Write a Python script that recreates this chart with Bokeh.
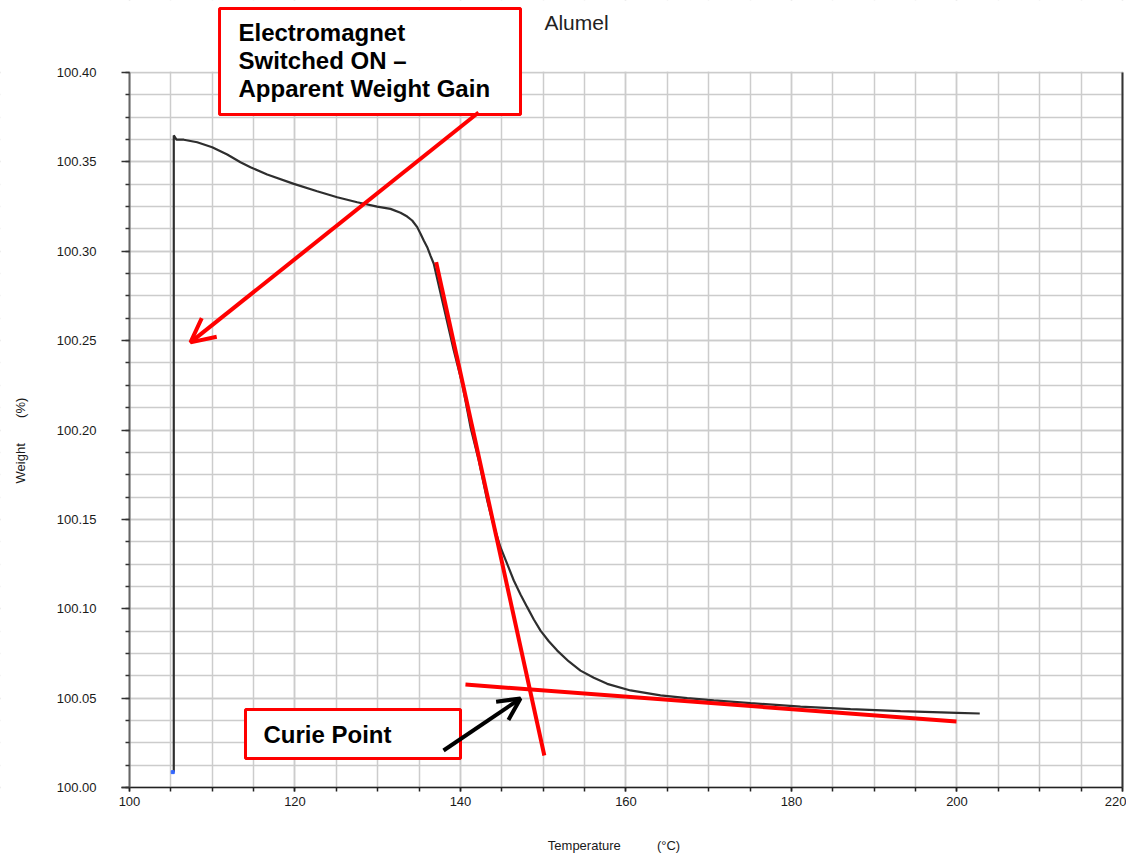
import math
from bokeh.plotting import figure
from bokeh.models import (Range1d, FixedTicker, PrintfTickFormatter, LinearAxis,
                          BoxAnnotation, Label, Arrow, OpenHead)
from bokeh.embed import file_html
from bokeh.resources import INLINE

# TGA trace of Alumel: temperature (°C) vs weight (%)
temperature = [105.35, 105.35, 105.68, 106.56, 108.18, 109.99, 111.81, 113.41, 114.62, 116.64,
               119.86, 122.68, 125.10, 127.52, 129.93, 131.54, 132.75, 133.56, 134.16, 134.77,
               135.17, 135.56, 135.98, 136.37, 136.77, 137.98, 139.19, 140.21, 141.21, 142.21,
               143.23, 143.83, 144.83, 145.64, 146.44, 147.25, 148.06, 148.86, 149.67, 150.67,
               151.69, 153.09, 154.50, 156.11, 157.73, 160.54, 164.17, 167.40, 170.61, 175.05,
               181.09, 187.13, 193.17, 200.02, 202.75]
weight = [100.0086, 100.3648, 100.3625, 100.3624, 100.3610, 100.3582, 100.3541, 100.3498, 100.3470, 100.3429,
          100.3377, 100.3336, 100.3302, 100.3274, 100.3250, 100.3237, 100.3215, 100.3194, 100.3172, 100.3135,
          100.3098, 100.3060, 100.3023, 100.2976, 100.2930, 100.2687, 100.2445, 100.2259, 100.2016, 100.1829,
          100.1606, 100.1494, 100.1344, 100.1251, 100.1158, 100.1080, 100.1009, 100.0940, 100.0878, 100.0818,
          100.0766, 100.0705, 100.0654, 100.0614, 100.0580, 100.0543, 100.0515, 100.0500, 100.0487, 100.0472,
          100.0453, 100.0438, 100.0427, 100.0418, 100.0414]

# tangent construction for the Curie point
steep_t = [137.06, 150.13]
steep_w = [100.2939, 100.0179]
flat_t = [140.60, 199.94]
flat_w = [100.0576, 100.0369]
curie_t = 147.25
curie_w = 100.0498

# axis ticks
x_major = [100, 120, 140, 160, 180, 200, 220]
x_minor = [100 + 5 * i for i in range(25)]
y_major = [100.00, 100.05, 100.10, 100.15, 100.20, 100.25, 100.30, 100.35, 100.40]
y_minor = [round(100 + 0.0125 * i, 4) for i in range(33)]

X0, X1 = 100, 220
Y0, Y1 = 100.0, 100.4

FONT = "Liberation Sans"
GRID = "#cccccc"

# the frame fills the whole canvas; axes are pinned to the data box
p = figure(width=1126, height=856, output_backend="svg", toolbar_location=None,
           x_range=Range1d(84.4109, 220.4834), y_range=Range1d(99.9614, 100.44028),
           min_border=0, outline_line_color=None,
           background_fill_color="white", border_fill_color="white")

xa = p.xaxis[0]
xa.fixed_location = Y0
xa.bounds = (99.03, X1)
xa.ticker = FixedTicker(ticks=x_major, minor_ticks=x_minor)
xa.axis_line_color = "#222222"
xa.axis_line_width = 1.5
xa.major_tick_line_color = "#222222"
xa.minor_tick_line_color = "#222222"
xa.major_tick_line_width = 1.5
xa.minor_tick_line_width = 1.5
xa.major_tick_out = 4
xa.major_tick_in = 0
xa.minor_tick_out = 4
xa.minor_tick_in = 0
xa.major_label_standoff = 5
xa.major_label_text_font = FONT
xa.major_label_text_font_size = "13px"
xa.major_label_text_color = "#1a1a1a"

ya = p.yaxis[0]
ya.fixed_location = X0
ya.bounds = (Y0, Y1)
ya.ticker = FixedTicker(ticks=y_major, minor_ticks=y_minor)
ya.formatter = PrintfTickFormatter(format="%.2f")
ya.axis_line_color = "#666666"
ya.axis_line_width = 2
ya.major_tick_line_color = "#333333"
ya.minor_tick_line_color = "#333333"
ya.major_tick_line_width = 1.5
ya.minor_tick_line_width = 1.5
ya.major_tick_out = 8
ya.major_tick_in = 0
ya.minor_tick_out = 4
ya.minor_tick_in = 0
ya.major_label_standoff = 25
ya.major_label_text_font = FONT
ya.major_label_text_font_size = "13px"
ya.major_label_text_color = "#1a1a1a"

# plain right border line
ra = LinearAxis(fixed_location=X1, bounds=(Y0, Y1), ticker=FixedTicker(ticks=[]),
                axis_line_color="#333333", axis_line_width=2,
                major_tick_out=0, major_tick_in=0, minor_tick_out=0, minor_tick_in=0,
                major_label_standoff=0, major_label_text_font_size="0px")
p.add_layout(ra, "right")

# grid every 5 °C and every 0.0125 %
for g in (p.xgrid[0], p.ygrid[0]):
    g.grid_line_color = GRID
    g.grid_line_width = 1.5
    g.minor_grid_line_color = GRID
    g.minor_grid_line_width = 1.5
p.xgrid[0].ticker = FixedTicker(ticks=x_major, minor_ticks=x_minor)
p.ygrid[0].ticker = FixedTicker(ticks=y_major, minor_ticks=y_minor)

# keep the grid inside the data box
for kw in (dict(bottom=Y1 + 0.0005), dict(top=Y0 - 0.0005),
           dict(right=X0 - 0.1), dict(left=X1 + 0.1)):
    p.add_layout(BoxAnnotation(fill_color="white", fill_alpha=1.0, line_color=None,
                               level="glyph", **kw))

# data
p.line(temperature, weight, line_color="#2e2e2e", line_width=2.2)
p.scatter([temperature[0] - 0.12], [weight[0]], marker="square", size=3,
          fill_color="#3366ff", line_color="#3366ff")

# tangents
p.line(steep_t, steep_w, line_color="#ff0000", line_width=4)
p.line(flat_t, flat_w, line_color="#ff0000", line_width=4)

# annotation boxes
p.add_layout(BoxAnnotation(left=110.88, right=147.25, top=100.4358, bottom=100.3765,
                           fill_color="white", fill_alpha=1.0,
                           line_color="#ff0000", line_width=3, line_alpha=1.0))
p.add_layout(BoxAnnotation(left=114.02, right=140.0, top=100.0436, bottom=100.0162,
                           fill_color="white", fill_alpha=1.0,
                           line_color="#ff0000", line_width=3, line_alpha=1.0))

for txt, yy in (("Electromagnet", 100.4224), ("Switched ON \u2013", 100.4067),
                ("Apparent Weight Gain", 100.3910)):
    p.add_layout(Label(x=113.17, y=yy, text=txt, text_align="left", text_baseline="middle",
                       text_font=FONT, text_font_style="bold", text_font_size="24px",
                       text_color="black"))
p.add_layout(Label(x=116.19, y=100.0296, text="Curie Point", text_align="left",
                   text_baseline="middle", text_font=FONT, text_font_style="bold",
                   text_font_size="24px", text_color="black"))

# arrows
p.add_layout(Arrow(end=OpenHead(size=24, line_color="#ff0000", line_width=4),
                   x_start=142.18, y_start=100.3776, x_end=107.37, y_end=100.2490,
                   line_color="#ff0000", line_width=4))
p.add_layout(Arrow(end=OpenHead(size=22, line_color="black", line_width=4),
                   x_start=137.95, y_start=100.0207, x_end=curie_t, y_end=curie_w,
                   line_color="black", line_width=4))

# title and axis titles
NB = "\u00a0"
p.add_layout(Label(x=154.02, y=100.428, text="Alumel", text_align="center",
                   text_baseline="middle", text_font=FONT, text_font_size="21px",
                   text_color="#222222"))
p.add_layout(Label(x=158.55, y=99.96755, text="Temperature" + NB * 10 + "(°C)",
                   text_align="center", text_baseline="middle", text_font=FONT,
                   text_font_size="13px", text_color="#1a1a1a"))
p.add_layout(Label(x=86.83, y=100.1941, text="Weight" + NB * 7 + "(%)",
                   text_align="center", text_baseline="middle", angle=math.pi / 2,
                   text_font=FONT, text_font_size="13px", text_color="#1a1a1a"))

open("out.html", "w").write(file_html(p, INLINE))
